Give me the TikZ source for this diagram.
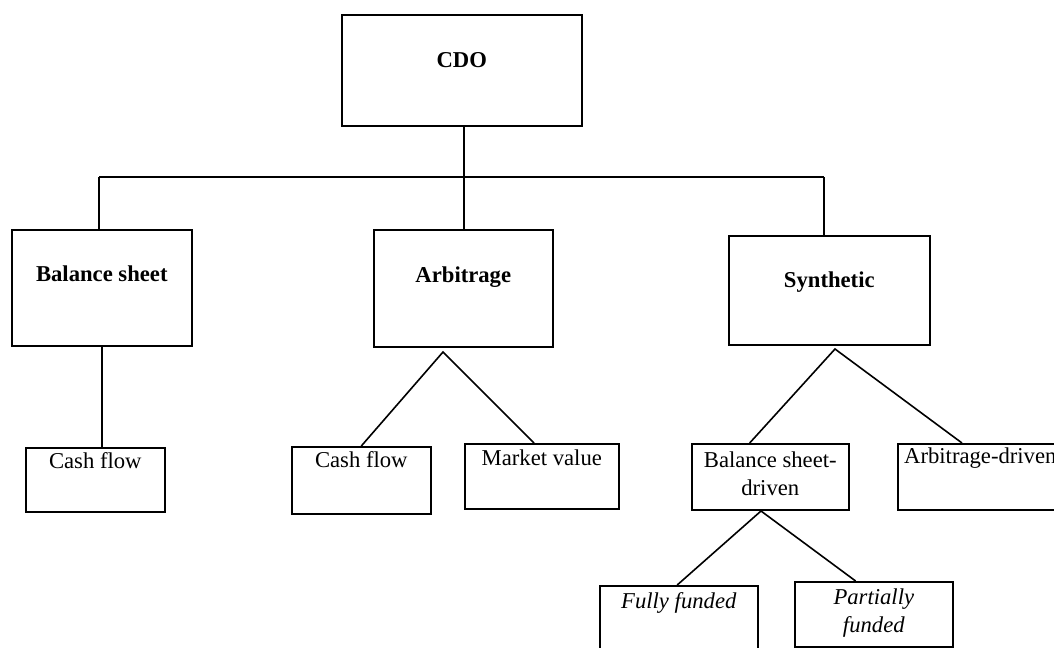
\documentclass[tikz,border=0pt]{standalone}
\usepackage{fontspec}
\setmainfont{Liberation Serif}
\usetikzlibrary{calc}
\begin{document}
\begin{tikzpicture}[x=0.75pt,y=-0.75pt,line width=1.2pt,
  font=\fontsize{17}{21}\selectfont,
  box/.style={draw,rectangle,inner sep=0pt,anchor=north west,align=center},
  head/.style={box,font=\fontsize{17}{21}\selectfont\bfseries},
  leaf/.style={box},
  sub/.style={box,font=\fontsize{17}{21}\selectfont\itshape}]
\useasboundingbox (0,0) rectangle (1054,647);

% top level
\node[head,minimum width=180pt,text height=39.75pt,text depth=43.5pt] (cdo) at (341,14) {CDO};

% second level
\node[head,minimum width=135pt,text height=39pt,text depth=48pt] (bs) at (11,229) {Balance sheet};
\node[head,minimum width=134.25pt,text height=39.75pt,text depth=48pt] (arb) at (373,229) {Arbitrage};
\node[head,minimum width=150.75pt,text height=39pt,text depth=42.75pt] (syn) at (728,235) {Synthetic};

% third level
\node[leaf,minimum width=104.25pt,text height=15.75pt,text depth=32.25pt] (cf1) at (25,447) {Cash flow};
\node[leaf,minimum width=104.25pt,text height=15.75pt,text depth=34.5pt] (cf2) at (291,446) {Cash flow};
\node[leaf,minimum width=115.5pt,text height=16.5pt,text depth=32.25pt] (mv) at (464,443) {Market value};
\node[leaf,minimum width=117.75pt,text height=39pt,text depth=10.5pt] (bsd) at (691,443) {Balance sheet-\\driven};
\node[leaf,minimum width=123.75pt,text height=15pt,text depth=34.5pt] (ad) at (897,443) {Arbitrage-driven};

% fourth level
\node[sub,minimum width=118.5pt,text height=17.25pt,text depth=39pt] (ff) at (599,585) {Fully funded};
\node[sub,minimum width=118.5pt,text height=38.25pt,text depth=10.5pt] (pf) at (794,581) {Partially\\funded};

% bus below the root
\coordinate (busL) at (99,177);
\coordinate (busR) at (824,177);
\coordinate (hub) at (464,177);
\draw (busL) -- (busR);
\draw (busL) -- (busL |- bs.north);
\draw (busR) -- (busR |- syn.north);
\draw (hub |- cdo.south) -- (hub |- arb.north);

% branches
\draw (bs.south) -- (bs.south |- cf1.north);
\coordinate (arbApex) at (443,352);
\draw (cf2.north) -- (arbApex) -- ($(mv.north west)!0.45!(mv.north east)$);
\coordinate (synApex) at (835,349);
\draw ($(bsd.north west)!0.37!(bsd.north east)$) -- (synApex) -- ($(ad.north west)!0.39!(ad.north east)$);
\coordinate (bsdApex) at (761,511);
\draw ($(ff.north west)!0.49!(ff.north east)$) -- (bsdApex) -- ($(pf.north west)!0.386!(pf.north east)$);
\end{tikzpicture}
\end{document}
